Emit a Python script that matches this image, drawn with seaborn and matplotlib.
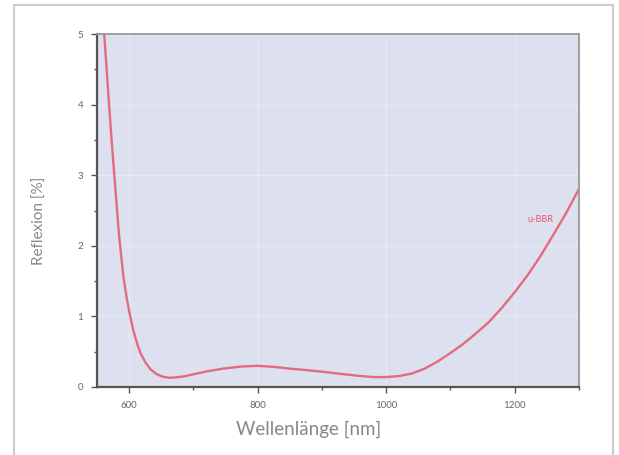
import pandas as pd
import seaborn as sns
import matplotlib.pyplot as plt
from matplotlib.patches import Rectangle
from matplotlib.ticker import MultipleLocator


# values
wavelength = [556, 561, 567, 572, 578, 584, 591, 596, 601, 606, 612, 618, 625,
              633, 643, 652, 663, 672, 685, 700, 720, 746, 775, 800, 825, 850,
              875, 902, 930, 955, 980, 1000, 1020, 1040, 1060, 1080, 1100, 1120,
              1140, 1160, 1180, 1200, 1220, 1240, 1260, 1280, 1300]
reflexion = [5.6, 5.0, 4.2, 3.55, 2.85, 2.15, 1.55, 1.26, 1.02, 0.81, 0.62, 0.47,
             0.35, 0.25, 0.18, 0.145, 0.13, 0.135, 0.15, 0.18, 0.22, 0.26, 0.29,
             0.30, 0.285, 0.26, 0.24, 0.215, 0.185, 0.16, 0.14, 0.14, 0.155, 0.19,
             0.26, 0.36, 0.48, 0.61, 0.76, 0.92, 1.12, 1.34, 1.58, 1.85, 2.15,
             2.46, 2.80]
x_ticks = [600, 800, 1000, 1200]
y_ticks = [0, 1, 2, 3, 4, 5]
series_label = 'u-BBR'

df = pd.DataFrame({'Wellenlänge': wavelength, 'Reflexion': reflexion})

sns.set_theme(style='white')
plt.rcParams['font.family'] = ['Lato', 'DejaVu Sans']

fig = plt.figure(figsize=(6.19, 4.55), dpi=100)
ax = fig.add_axes([0.157, 0.1495, 0.778, 0.7755])
ax.set_facecolor('#dde0ef')

sns.lineplot(data=df, x='Wellenlänge', y='Reflexion', ax=ax,
             color='#e6566c', linewidth=1.7, alpha=0.85)

ax.set_xlim(550, 1300)
ax.set_ylim(0, 5)
ax.set_xticks(x_ticks)
ax.set_yticks(y_ticks)
ax.xaxis.set_minor_locator(MultipleLocator(100))
ax.yaxis.set_minor_locator(MultipleLocator(0.5))
ax.grid(True, which='major', color='white', linewidth=0.8, alpha=0.35)

ax.tick_params(which='major', direction='out', length=4, width=1,
               color='#555555', labelsize=7, labelcolor='#666666', pad=6,
               bottom=True, left=True)
ax.tick_params(which='minor', direction='out', length=2, width=1,
               color='#555555', bottom=True, left=True)

for side in ['left', 'bottom']:
    ax.spines[side].set_color('#555555')
    ax.spines[side].set_linewidth(1.6)
for side in ['top', 'right']:
    ax.spines[side].set_color('#999999')
    ax.spines[side].set_linewidth(1.3)

ax.set_xlabel('Wellenlänge [nm]', fontsize=13.5, color='#888888')
ax.set_ylabel('Reflexion [%]', fontsize=11, color='#888888')
ax.xaxis.set_label_coords(0.44, -0.095)
ax.yaxis.set_label_coords(-0.105, 0.47)

ax.text(1240, 2.37, series_label, color='#e6566c', fontsize=6.5,
        ha='center', va='center')

# light frame around the whole picture
fig.patches.append(Rectangle((14 / 619, -0.05), 599 / 619, 1.05 - 5 / 455,
                             transform=fig.transFigure, fill=False,
                             edgecolor='#cccccc', linewidth=1.5))

fig.savefig('out.png', dpi=100)
